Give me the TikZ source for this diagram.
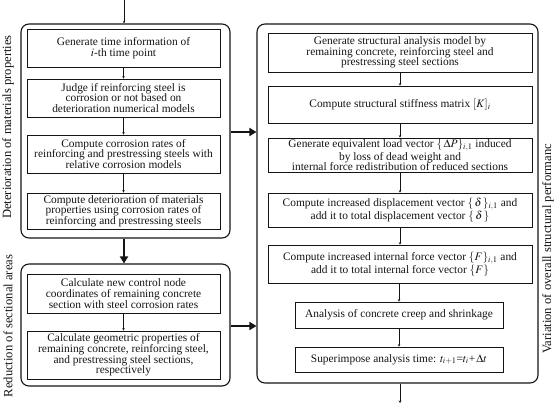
\documentclass[tikz,border=0pt]{standalone}
\usepackage{mathptmx}
\usepackage{fontspec}
\setmainfont{Liberation Serif}
\usepackage{tikz}
\usetikzlibrary{positioning,arrows.meta}
\definecolor{inkc}{RGB}{20,20,20}

\begin{document}
\begin{tikzpicture}[x=1pt, y=-1pt,
  box/.style={draw=inkc, line width=0.7pt, align=center, inner sep=1pt, text=inkc,
    font=\fontsize{11.4}{10.6}\selectfont},
  lbox/.style={box, minimum width=193},
  rbox/.style={box, minimum width=264},
  sbox/.style={box, minimum width=208},
  group/.style={draw=inkc, line width=1.1pt, rounded corners=8pt, inner sep=0pt},
  side/.style={rotate=90, text=inkc, font=\fontsize{12.6}{13}\selectfont},
  thin/.style={draw=inkc, line width=0.5pt, -{Stealth[length=2.5pt,width=2.5pt]}},
  thick/.style={draw=inkc, line width=2.6pt, -{Triangle[length=7pt,width=8pt]}},
]
\useasboundingbox (0,0) rectangle (556,405);
\def\lx{123.5}  % left column centre
\def\rx{400}    % right column centre

% ---- groups ----
\node[group, minimum width=209, minimum height=214] (gDet) at (125.5,131) {};
\node[group, minimum width=209, minimum height=122] (gRed) at (125.5,325) {};
\node[group, minimum width=281, minimum height=359] (gVar) at (397.5,203.5) {};

% ---- side labels ----
\node[side] (sDet) at (8,127) {Deterioration of materials properties};
\node[side] (sRed) at (8,326) {Reduction of sectional areas};
\node[side] (sVar) at (548,249) {Variation of overall structural performanc};

% ---- left column ----
\node[lbox, minimum height=38] (l1) at (\lx,48) {Generate time information of\\ $i$-th time point};
\node[lbox, minimum height=38] (l2) at (\lx,98) {Judge if reinforcing steel is\\ corrosion or not based on\\ deterioration numerical models};
\node[lbox, minimum height=38] (l3) at (\lx,154) {Compute corrosion rates of\\ reinforcing and prestressing steels with\\ relative corrosion models};
\node[lbox, minimum height=36] (l4) at (\lx,211) {Compute deterioration of materials\\ properties using corrosion rates of\\ reinforcing and prestressing steels};
\node[lbox, minimum height=39] (l5) at (\lx,293.5) {Calculate new control node\\ coordinates of remaining concrete\\ section with steel corrosion rates};
\node[lbox, minimum height=48] (l6) at (\lx,355) {Calculate geometric properties of\\ remaining concrete, reinforcing steel,\\ and prestressing steel sections,\\ respectively};

% ---- right column ----
\node[rbox, minimum height=39] (r1) at (\rx,52.5) {Generate structural analysis model by\\ remaining concrete, reinforcing steel and\\ prestressing steel sections};
\node[rbox, minimum height=37] (r2) at (\rx,104.5) {Compute structural stiffness matrix $[K]_i$};
\node[rbox, minimum height=34] (r3) at (\rx,155) {Generate equivalent load vector $\{\,\Delta P\}_{i,1}$ induced\\ by loss of dead weight and\\ internal force redistribution of reduced sections};
\node[rbox, minimum height=34] (r4) at (\rx,210) {Compute increased displacement vector $\{\,\delta\,\}_{i,1}$ and\\ add it to total displacement vector $\{\,\delta\,\}$};
\node[rbox, minimum height=38] (r5) at (\rx,264) {Compute increased internal force vector $\{F\}_{i,1}$ and\\ add it to total internal force vector $\{F\}$};
\node[sbox, minimum height=26] (r6) at (399,315) {Analysis of concrete creep and shrinkage};
\node[sbox, minimum height=25] (r7) at (399,359.5) {Superimpose analysis time: $t_{i+1}$=$t_i$+$\,\Delta t$};

% ---- connectors ----
\coordinate (in) at (124,0);
\coordinate (out) at (400,403);
\draw[thin] (in) -- (in |- gDet.north);
\foreach \a/\b in {l1/l2,l2/l3,l3/l4,l5/l6,r1/r2,r2/r3,r3/r4,r4/r5}
  \draw[thin] (\a.south) -- (\b.north);
\draw[thin] (r5.south -| r6.north) -- (r6.north);
\draw[thin] (r6.south) -- (r7.north);
\draw[thin] (out |- gVar.south) -- (out);

\draw[thick] (124,0 |- gDet.south) -- (124,0 |- gRed.north);
\draw[thick] (gDet.east |- 0,132) -- (gVar.west |- 0,132);
\draw[thick] (gRed.east |- 0,326) -- (gVar.west |- 0,326);
\end{tikzpicture}
\end{document}
